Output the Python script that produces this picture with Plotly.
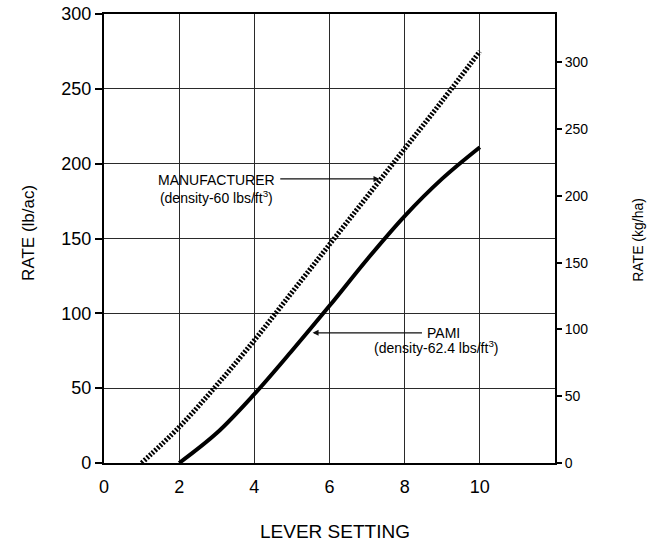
import plotly.graph_objects as go

# Data
manu_x = [1, 2, 3, 4, 5, 6, 7, 8, 9, 10]
manu_y = [0, 24, 52, 82, 114, 146, 178, 210, 242, 275]

pami_x = [2, 3, 4, 5, 6, 7, 8, 9, 10]
pami_y = [0, 20, 46, 75, 105, 136, 165, 190, 211]

x_ticks = [0, 2, 4, 6, 8, 10]
y_ticks = [0, 50, 100, 150, 200, 250, 300]
y2_ticks = [0, 50, 100, 150, 200, 250, 300]
KG_PER_LB_AC = 1.12085

FONT = "Liberation Sans, Arial, Helvetica, sans-serif"

fig = go.Figure()
fig.add_trace(go.Scatter(
    x=manu_x, y=manu_y, mode="lines", line_shape="spline",
    line=dict(color="#000000", width=5, dash="2px,1.6px"),
    showlegend=False, hoverinfo="skip"))
fig.add_trace(go.Scatter(
    x=pami_x, y=pami_y, mode="lines", line_shape="spline",
    line=dict(color="#000000", width=4),
    showlegend=False, hoverinfo="skip"))
# invisible trace to activate the right axis
fig.add_trace(go.Scatter(x=[0], y=[0], yaxis="y2", mode="markers",
                         marker=dict(opacity=0), showlegend=False, hoverinfo="skip"))

fig.update_layout(
    width=649, height=542,
    margin=dict(l=104, r=94, t=14, b=79, autoexpand=False),
    paper_bgcolor="white", plot_bgcolor="white",
    font=dict(family=FONT, color="#000000"),
    xaxis=dict(range=[0, 12], tickvals=x_ticks, ticktext=[str(v) for v in x_ticks],
               showgrid=True, gridcolor="#2a2a2a", gridwidth=1.2,
               showline=True, linecolor="#000000", linewidth=2.2, mirror=True,
               ticks="", ticklabelstandoff=6, tickfont=dict(size=18),
               zeroline=False, automargin=False),
    yaxis=dict(range=[0, 300], tickvals=y_ticks,
               showgrid=True, gridcolor="#2a2a2a", gridwidth=1.2,
               showline=True, linecolor="#000000", linewidth=2.2, mirror=True,
               ticks="outside", ticklen=7, tickwidth=2, tickcolor="#000000",
               tickfont=dict(size=18), zeroline=False, automargin=False),
    yaxis2=dict(range=[0, 300 * KG_PER_LB_AC], tickvals=y2_ticks,
                overlaying="y", side="right", showgrid=False,
                showline=False, ticks="outside", ticklen=6, tickwidth=2,
                tickcolor="#000000", tickfont=dict(size=14), zeroline=False,
                automargin=False),
    annotations=[
        dict(text="RATE (lb/ac)", xref="paper", yref="paper", x=-0.169, y=0.512,
             textangle=-90, showarrow=False, font=dict(size=17),
             xanchor="center", yanchor="middle"),
        dict(text="RATE (kg/ha)", xref="paper", yref="paper", x=1.184, y=0.497,
             textangle=-90, showarrow=False, font=dict(size=14),
             xanchor="center", yanchor="middle"),
        dict(text="LEVER SETTING", xref="paper", yref="paper", x=0.513, y=-0.153,
             showarrow=False, font=dict(size=19), xanchor="center", yanchor="middle"),
        dict(text="MANUFACTURER<br>(density-60 lbs/ft<sup>3</sup>)", x=3.0, y=183,
             xref="x", yref="y", showarrow=False, align="center",
             font=dict(size=14), xanchor="center", yanchor="middle"),
        dict(text="", x=7.33, y=189.8, ax=4.65, ay=189.8, xref="x", yref="y",
             axref="x", ayref="y", showarrow=True, arrowhead=2, arrowsize=1,
             arrowwidth=1.2, arrowcolor="#111111"),
        dict(text="PAMI", x=8.55, y=87, xref="x", yref="y", showarrow=False,
             font=dict(size=14), xanchor="left", yanchor="middle"),
        dict(text="(density-62.4 lbs/ft<sup>3</sup>)", x=7.12, y=85, xref="x", yref="y",
             showarrow=False, font=dict(size=14), xanchor="left", yanchor="top"),
        dict(text="", x=5.55, y=87, ax=8.5, ay=87, xref="x", yref="y",
             axref="x", ayref="y", showarrow=True, arrowhead=2, arrowsize=1,
             arrowwidth=1.2, arrowcolor="#111111"),
    ],
)

fig.write_html("out.html", config={"displayModeBar": False},
               post_script="document.body.style.margin='0';document.body.style.padding='0';")
